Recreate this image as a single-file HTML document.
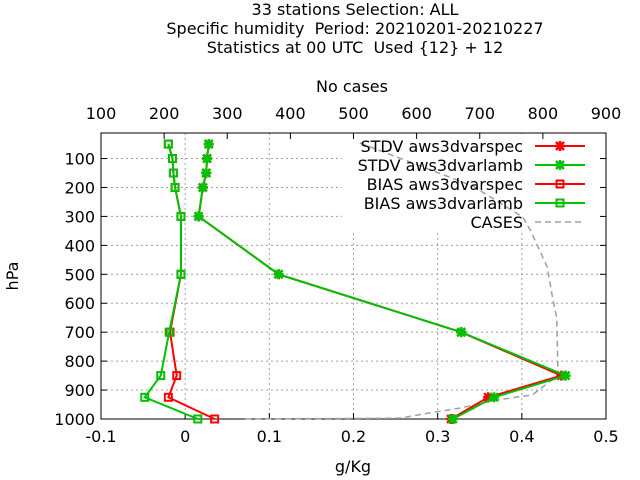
<!DOCTYPE html>
<html><head><meta charset="utf-8"><style>
body{margin:0;background:#fff}
svg{display:block;font-family:"DejaVu Sans","Liberation Sans",sans-serif}
text{white-space:pre}
</style></head><body>
<svg id="chart" width="640" height="480" xmlns="http://www.w3.org/2000/svg" xml:space="preserve">
<g id="titles" font-size="16" text-anchor="middle" fill="#000">
<text x="355" y="15">33 stations Selection: ALL</text>
<text x="355" y="34">Specific humidity  Period: 20210201-20210227</text>
<text x="355" y="53">Statistics at 00 UTC  Used {12} + 12</text>
<text x="352" y="92">No cases</text>
<text x="353" y="472">g/Kg</text>
<text x="0" y="0" transform="translate(18,276) rotate(-90)">hPa</text>
</g>
<g id="grid"></g>
<rect x="342" y="134" width="263" height="96" fill="#fff"/>
<g id="axes"></g>
<g id="series"></g>
<g id="legend"></g>
</svg>
<script>
const levels=[50,100,150,200,300,500,700,850,925,1000];
const stdvSpec=[0.028,0.026,0.025,0.021,0.016,0.111,0.328,0.447,0.36,0.316];
const stdvLamb=[0.028,0.026,0.025,0.021,0.016,0.111,0.328,0.452,0.367,0.318];
const biasSpec=[-0.020,-0.015,-0.014,-0.012,-0.005,-0.005,-0.018,-0.010,-0.020,0.035];
const biasLamb=[-0.020,-0.015,-0.014,-0.012,-0.005,-0.005,-0.019,-0.029,-0.048,0.015];
const casesP=[46,195,302,347,475,589,651,848,889,917,934,962,979,997,1000];
const casesN=[510,689,768,780,807,816,822,824,800,783,727,669,621,574,328];
const xTicks=[-0.1,0,0.1,0.2,0.3,0.4,0.5];
const xTickLabels=["-0.1","0","0.1","0.2","0.3","0.4","0.5"];
const topTicks=[100,200,300,400,500,600,700,800,900];
const yTicks=[100,200,300,400,500,600,700,800,900,1000];

const L=101,R=606,T=133,B=419;
const X=v=>L+(v+0.1)/0.6*(R-L);
const XC=c=>L+(c-100)/800*(R-L);
const Y=p=>B-(1000-p)*0.2894;
const NS="http://www.w3.org/2000/svg";
function mk(tag,parent,attrs){const e=document.createElementNS(NS,tag);for(const k in attrs)e.setAttribute(k,attrs[k]);parent.appendChild(e);return e;}
const grid=document.getElementById('grid'),axes=document.getElementById('axes'),ser=document.getElementById('series'),leg=document.getElementById('legend');
xTicks.forEach(v=>{if(v>-0.1&&v<0.5){const g=mk('line',grid,{x1:X(v),x2:X(v),y1:T,y2:B,stroke:'#a0a0a0','stroke-dasharray':'2,3','stroke-width':1});

}});
yTicks.forEach(p=>{if(p<1000){const g=mk('line',grid,{x1:L,x2:R,y1:Y(p),y2:Y(p),stroke:'#a0a0a0','stroke-dasharray':'2,3','stroke-width':1});

}});
const fr=mk('rect',axes,{x:L,y:T,width:R-L,height:B-T,fill:'none',stroke:'#000','stroke-width':1});


xTicks.forEach((v,i)=>{
 mk('line',axes,{x1:X(v),x2:X(v),y1:B,y2:B-6,stroke:'#000'});
 const t=mk('text',axes,{x:X(v),y:442,'font-size':16,'text-anchor':'middle'});t.textContent=xTickLabels[i];
 
 
});
topTicks.forEach(c=>{
 mk('line',axes,{x1:XC(c),x2:XC(c),y1:T,y2:T+6,stroke:'#000'});
 const t=mk('text',axes,{x:XC(c),y:119,'font-size':16,'text-anchor':'middle'});t.textContent=c;
 
 
});
yTicks.forEach(p=>{
 mk('line',axes,{x1:L,x2:L+6,y1:Y(p),y2:Y(p),stroke:'#000'});
 mk('line',axes,{x1:R,x2:R-6,y1:Y(p),y2:Y(p),stroke:'#000'});
 const t=mk('text',axes,{x:L-6,y:Y(p)+6,'font-size':16,'text-anchor':'end'});t.textContent=p;
 
 
});
const cp=mk('polyline',ser,{points:casesP.map((p,i)=>XC(casesN[i])+','+Y(p)).join(' '),fill:'none',stroke:'#a0a0a0','stroke-width':1.5,'stroke-dasharray':'6,4'});


function star(g,x,y,c){mk('path',g,{d:`M${x-4},${y-4}L${x+4},${y+4}M${x-4},${y+4}L${x+4},${y-4}M${x-5},${y}L${x+5},${y}M${x},${y-5}L${x},${y+5}`,stroke:c,'stroke-width':2.5});}
function box(g,x,y,c){mk('rect',g,{x:x-3.5,y:y-3.5,width:7,height:7,fill:'none',stroke:c,'stroke-width':2});}
function series(vals,color,mark,name){
 const g=mk('g',ser,{});
 
 
 mk('polyline',g,{points:levels.map((p,i)=>X(vals[i])+','+Y(p)).join(' '),fill:'none',stroke:color,'stroke-width':2});
 levels.forEach((p,i)=>mark(g,X(vals[i]),Y(p),color));
}
series(stdvSpec,'#ff0000',star,'stdv-aws3dvarspec-series');
series(biasSpec,'#ff0000',box,'bias-aws3dvarspec-series');
series(stdvLamb,'#00c000',star,'stdv-aws3dvarlamb-series');
series(biasLamb,'#00c000',box,'bias-aws3dvarlamb-series');
const items=[['STDV aws3dvarspec','#ff0000',star],['STDV aws3dvarlamb','#00c000',star],['BIAS aws3dvarspec','#ff0000',box],['BIAS aws3dvarlamb','#00c000',box],['CASES','#a0a0a0',null]];
items.forEach((it,i)=>{
 const y=146+i*19;
 const g=mk('g',leg,{});
 
 
 const t=mk('text',g,{x:523,y:y+6,'font-size':16,'text-anchor':'end'});t.textContent=it[0];
 if(it[2]){mk('line',g,{x1:535,x2:585,y1:y,y2:y,stroke:it[1],'stroke-width':2});it[2](g,560,y,it[1]);}
 else mk('line',g,{x1:535,x2:585,y1:y,y2:y,stroke:it[1],'stroke-width':1.5,'stroke-dasharray':'6,4'});
});
</script>
</body></html>
